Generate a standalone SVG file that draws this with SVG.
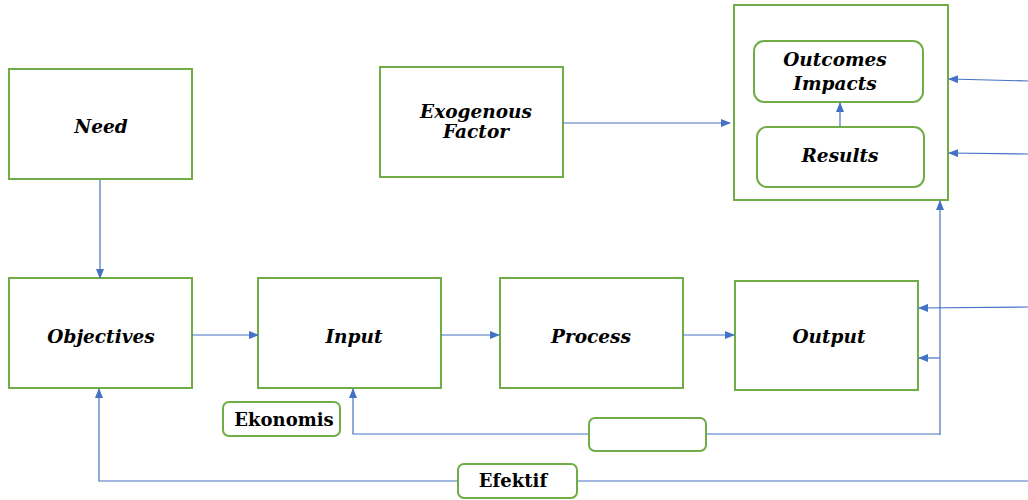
<svg xmlns="http://www.w3.org/2000/svg" width="1028" height="500" viewBox="0 0 1028 500">
<style>
.box{fill:#fff;stroke:#70AD47;stroke-width:2}
.t{font-family:"DejaVu Serif","Liberation Serif",serif;font-weight:bold;font-style:italic;font-size:18.5px;fill:#000;text-anchor:middle}
.tn{font-family:"DejaVu Serif","Liberation Serif",serif;font-weight:bold;font-size:18px;fill:#000;text-anchor:middle}
.c{fill:none;stroke:#4472C4;stroke-width:1.2}
</style>
<defs>
<marker id="a" markerWidth="10" markerHeight="8" refX="9" refY="4" orient="auto" markerUnits="userSpaceOnUse">
<path d="M0,0 L10,4 L0,8 z" fill="#4472C4"/>
</marker>
</defs>
<g id="need"><rect class="box" x="9" y="69" width="183" height="110"/><text class="t" x="101" y="133">Need</text></g>
<g id="exogenous"><rect class="box" x="380" y="67" width="183" height="110"/><text class="t" x="476" y="118">Exogenous</text><text class="t" x="476" y="138">Factor</text></g>
<g id="outer"><rect class="box" x="734" y="5" width="214" height="195"/></g>
<g id="outcomes"><rect class="box" x="754" y="41" width="169" height="61" rx="10"/><text class="t" x="835" y="66">Outcomes</text><text class="t" x="835" y="90">Impacts</text></g>
<g id="results"><rect class="box" x="757" y="127" width="167" height="60" rx="10"/><text class="t" x="840" y="162">Results</text></g>
<g id="objectives"><rect class="box" x="9" y="278" width="183" height="110"/><text class="t" x="101" y="343">Objectives</text></g>
<g id="input"><rect class="box" x="258" y="278" width="183" height="110"/><text class="t" x="354" y="343">Input</text></g>
<g id="process"><rect class="box" x="500" y="278" width="183" height="110"/><text class="t" x="591" y="343">Process</text></g>
<g id="output"><rect class="box" x="735" y="281" width="183" height="109"/><text class="t" x="829" y="343">Output</text></g>
<g id="ekonomis"><rect class="box" x="223" y="402" width="117" height="34" rx="6"/><text class="tn" x="284" y="426">Ekonomis</text></g>
<g id="blank"><rect class="box" x="589" y="418" width="117" height="33" rx="6"/></g>
<g id="efektif"><rect class="box" x="458" y="464" width="119" height="34" rx="6"/><text class="tn" x="513" y="487">Efektif</text></g>
<g id="connectors">
<line class="c" x1="100" y1="180" x2="100" y2="278" marker-end="url(#a)"/>
<line class="c" x1="192" y1="335" x2="258" y2="335" marker-end="url(#a)"/>
<line class="c" x1="441" y1="335" x2="499" y2="335" marker-end="url(#a)"/>
<line class="c" x1="683" y1="335" x2="734" y2="335" marker-end="url(#a)"/>
<line class="c" x1="563" y1="123" x2="730" y2="123" marker-end="url(#a)"/>
<line class="c" x1="840" y1="126" x2="840" y2="103" marker-end="url(#a)"/>
<line class="c" x1="1028" y1="81" x2="949" y2="79" marker-end="url(#a)"/>
<line class="c" x1="1028" y1="154" x2="949" y2="153" marker-end="url(#a)"/>
<line class="c" x1="1028" y1="307" x2="919" y2="308" marker-end="url(#a)"/>
<polyline class="c" points="940,358 919,358" marker-end="url(#a)"/>
<line class="c" x1="940" y1="435" x2="940" y2="201" marker-end="url(#a)"/>
<line class="c" x1="940" y1="434" x2="707" y2="434"/>
<polyline class="c" points="588,434 353,434 353,389" marker-end="url(#a)"/>
<line class="c" x1="1028" y1="481" x2="578" y2="481"/>
<polyline class="c" points="457,481 99,481 99,389" marker-end="url(#a)"/>
</g>
</svg>
